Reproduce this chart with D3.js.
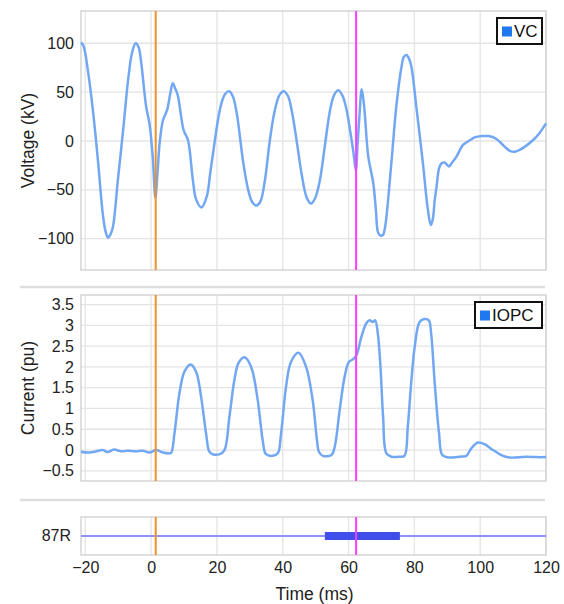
<!DOCTYPE html>
<html><head><meta charset="utf-8">
<script src="https://cdn.jsdelivr.net/npm/d3@7"></script>
<style>body{margin:0;background:#fff}svg{display:block;font-family:"Liberation Sans",Arial,sans-serif}</style>
</head><body><svg id="c" width="564" height="604"></svg>
<script>
// ---------- data ----------
const timeTicks = [-20, 0, 20, 40, 60, 80, 100, 120];
const voltTicks = [-100, -50, 0, 50, 100];
const currTicks = [-0.5, 0, 0.5, 1, 1.5, 2, 2.5, 3, 3.5];
const voltSeries = "VC";
const currSeries = "IOPC";
const relayName = "87R";
const faultTime = 1.4;     // orange marker (ms)
const tripTime = 62.3;     // magenta marker (ms)
const relayOn = [52.8, 75.6]; // 87R asserted interval (ms)

const voltT = [-21.3,-20.5,-19.2,-17.6,-16.1,-14.6,-13.8,-13.1,-12.4,-11.6,-10.1,-8.5,-7.0,-5.8,-4.7,-3.8,-3.0,-1.5,-0.5,0.5,1.3,2.0,2.6,3.6,4.9,5.8,6.6,7.3,8.1,9.0,9.9,11.2,12.7,13.7,15.3,16.9,18.0,19.4,20.5,21.4,22.5,23.7,24.8,26.0,28.0,29.5,30.8,32.0,33.2,34.5,36.1,37.5,39.0,40.3,41.6,42.8,44.2,45.8,47.3,48.6,49.9,51.3,52.8,54.3,55.6,56.9,58.2,59.4,60.5,61.5,62.2,62.8,63.3,64.0,64.6,65.0,66.0,67.5,68.3,69.0,69.8,70.5,71.0,71.5,73.0,74.5,76.1,76.8,77.6,78.4,79.1,80.6,82.6,84.1,85.0,85.6,86.2,86.7,87.5,88.2,89.2,90.5,91.5,92.8,94.8,96.5,98.5,100.4,102.5,104.5,106.0,107.5,109.0,110.5,112.0,113.5,116.1,118.0,120.0];
const voltV = [101,97,72,29,-22,-77,-93,-99,-96,-88,-40,11,62,90,100,96,80,35,18,-16,-58,-30,-2,21,32,48,59,54,47,28,11,1,-40,-60,-68,-57,-32,1,25,39,48,51,46,29,-22,-50,-63,-66,-62,-42,1,30,47,51,46,30,1,-35,-58,-64,-58,-40,-5,30,47,52,46,32,10,-12,-30,0,25,53,40,25,-16,-43,-70,-94,-97,-96,-90,-78,-23,35,76,86,88,84,76,35,-23,-70,-86,-80,-60,-48,-28,-23,-22,-26,-22,-16,-4,0,4,5,5,3,-1,-6,-10,-11,-9,-6,1,8,18];

const currT = [-21.3,-19.2,-17.2,-14.7,-13.2,-11.3,-9.1,-7.1,-4.6,-2.5,-0.5,1.5,3.6,5.4,6.1,7.1,8.6,10.1,12.0,13.7,15.2,16.7,17.7,18.7,20.8,22.3,23.8,25.3,26.6,28.4,30.4,32.4,33.9,34.9,37.0,38.5,39.5,41.0,42.5,44.8,47.1,49.1,50.4,51.0,52.2,54.8,55.8,57.3,58.8,60.1,61.3,62.4,63.9,65.4,66.4,67.4,68.1,68.9,69.7,70.5,71.5,73.0,75.5,77.0,78.0,79.1,80.1,81.6,83.1,84.4,85.1,86.2,87.5,88.5,90.7,93.7,95.8,97.3,99.3,101.3,103.9,106.4,108.9,114.0,117.0,120.0];
const currI = [-0.04,-0.06,-0.04,0.0,-0.05,0.01,-0.03,-0.02,-0.03,-0.02,-0.06,0.0,-0.06,-0.08,-0.07,0.40,1.36,1.88,2.06,1.88,1.28,0.40,-0.04,-0.10,-0.10,0.0,0.80,1.68,2.10,2.23,2.0,1.2,0.24,-0.10,-0.14,-0.08,0.40,1.52,2.12,2.34,2.0,1.2,0.24,-0.04,-0.14,-0.12,0.08,0.96,1.76,2.12,2.18,2.28,2.72,3.05,3.12,3.08,3.12,2.8,2.0,0.8,-0.08,-0.16,-0.16,-0.14,0.56,1.68,2.48,3.08,3.15,3.12,2.8,1.6,0.4,-0.12,-0.18,-0.16,-0.14,0.04,0.18,0.14,0.0,-0.12,-0.18,-0.16,-0.17,-0.17];

// ---------- layout ----------
const svg = d3.select("#c");
const L = 81, R = 546;
const lineCol = "#72a8f3", orange = "#f0902a", magenta = "#ff3cff";
const gridCol = "#e4e4e4", borderCol = "#cfcfcf";
const x = d3.scaleLinear().domain([-21.3, 120]).range([L, R]);

function panel(top, bottom, y, yTicks, fmt, title) {
  const g = svg.append("g");
  // horizontal grid
  g.selectAll(".hg").data(yTicks).join("line")
    .attr("x1", L).attr("x2", R).attr("y1", d => y(d)).attr("y2", d => y(d))
    .attr("stroke", gridCol).attr("stroke-width", 1.3);
  // vertical grid
  g.selectAll(".vg").data(timeTicks).join("line")
    .attr("x1", d => x(d)).attr("x2", d => x(d)).attr("y1", top).attr("y2", bottom)
    .attr("stroke", gridCol).attr("stroke-width", 1.3);
  g.append("rect").attr("x", L).attr("y", top).attr("width", R - L).attr("height", bottom - top)
    .attr("fill", "none").attr("stroke", borderCol).attr("stroke-width", 1.3);
  // y axis labels
  const ax = d3.axisLeft(y).tickValues(yTicks).tickFormat(fmt).tickSize(0).tickPadding(7);
  const ga = g.append("g").attr("transform", `translate(${L},0)`).call(ax);
  ga.select(".domain").remove();
  ga.selectAll("text").attr("font-size", 16).attr("fill", "#222").style("font-family", "Liberation Sans, Arial, sans-serif");
  if (title) {
    g.append("text").attr("transform", `translate(34,${(top + bottom) / 2}) rotate(-90)`)
      .attr("text-anchor", "middle").attr("font-size", 17.5).attr("fill", "#222").text(title);
  }
  return g;
}
function markers(g, top, bottom) {
  g.append("line").attr("x1", x(faultTime)).attr("x2", x(faultTime)).attr("y1", top).attr("y2", bottom)
    .attr("stroke", orange).attr("stroke-width", 2);
  g.append("line").attr("x1", x(tripTime)).attr("x2", x(tripTime)).attr("y1", top).attr("y2", bottom)
    .attr("stroke", magenta).attr("stroke-width", 2);
}
function legend(text, xr, ytop, w) {
  const g = svg.append("g");
  g.append("rect").attr("x", xr - w).attr("y", ytop).attr("width", w).attr("height", 26)
    .attr("fill", "#fff").attr("stroke", "#111").attr("stroke-width", 2);
  g.append("rect").attr("x", xr - w + 5).attr("y", ytop + 8.5).attr("width", 10).attr("height", 10).attr("fill", "#1f78ee");
  g.append("text").attr("x", xr - w + 17).attr("y", ytop + 19).attr("font-size", 17).attr("fill", "#111").text(text);
}
const fmtNum = d => d < 0 ? "\u2212" + Math.abs(d) : String(d);

// ---------- top: voltage ----------
const yV = d3.scaleLinear().domain([-132, 133]).range([270, 11]);
const gV = panel(11, 270, yV, voltTicks, fmtNum, "Voltage (kV)");
const line = (ys) => d3.line().x(d => x(d[0])).y(d => ys(d[1])).curve(d3.curveCatmullRom.alpha(0.5));
gV.append("path").datum(d3.zip(voltT, voltV)).attr("d", line(yV))
  .attr("fill", "none").attr("stroke", lineCol).attr("stroke-width", 2.5).attr("stroke-linejoin", "round");
markers(gV, 11, 270);
legend(voltSeries, 542, 18, 45);

// separator
svg.append("line").attr("x1", 20).attr("x2", 545).attr("y1", 287).attr("y2", 287).attr("stroke", "#dedede").attr("stroke-width", 2.5);

// ---------- middle: current ----------
const yI = d3.scaleLinear().domain([-0.745, 3.73]).range([481, 295]);
const gI = panel(295, 481, yI, currTicks, fmtNum, "Current (pu)");
gI.append("path").datum(d3.zip(currT, currI)).attr("d", line(yI))
  .attr("fill", "none").attr("stroke", lineCol).attr("stroke-width", 2.5).attr("stroke-linejoin", "round");
markers(gI, 295, 481);
legend(currSeries, 542, 302, 67);

svg.append("line").attr("x1", 20).attr("x2", 545).attr("y1", 500).attr("y2", 500).attr("stroke", "#dedede").attr("stroke-width", 2.5);

// ---------- bottom: relay ----------
const yR = d3.scaleBand().domain([relayName]).range([517, 555]);
const gR = svg.append("g");
gR.selectAll(".vg").data(timeTicks).join("line")
  .attr("x1", d => x(d)).attr("x2", d => x(d)).attr("y1", 517).attr("y2", 555)
  .attr("stroke", gridCol).attr("stroke-width", 1.3);
gR.append("rect").attr("x", L).attr("y", 517).attr("width", R - L).attr("height", 38)
  .attr("fill", "none").attr("stroke", borderCol).attr("stroke-width", 1.3);
const cy = yR(relayName) + yR.bandwidth() / 2;
gR.append("line").attr("x1", L).attr("x2", R).attr("y1", cy).attr("y2", cy).attr("stroke", "#8f93f5").attr("stroke-width", 2);
gR.append("rect").attr("x", x(relayOn[0])).attr("y", cy - 4).attr("width", x(relayOn[1]) - x(relayOn[0])).attr("height", 8)
  .attr("fill", "#3f4fe9");
markers(gR, 517, 555);
const ayR = d3.axisLeft(yR).tickSize(0).tickPadding(10);
const gay = gR.append("g").attr("transform", `translate(${L},0)`).call(ayR);
gay.select(".domain").remove();
gay.selectAll("text").attr("font-size", 16).attr("fill", "#222").style("font-family", "Liberation Sans, Arial, sans-serif");

const axX = d3.axisBottom(x).tickValues(timeTicks).tickFormat(fmtNum).tickSize(0).tickPadding(7);
const gx = svg.append("g").attr("transform", "translate(0,555)").call(axX);
gx.select(".domain").remove();
gx.selectAll("text").attr("font-size", 16).attr("fill", "#222").style("font-family", "Liberation Sans, Arial, sans-serif");
svg.append("text").attr("x", (L + R) / 2 + 1).attr("y", 600).attr("text-anchor", "middle")
  .attr("font-size", 17.5).attr("fill", "#222").text("Time (ms)");
</script></body></html>
